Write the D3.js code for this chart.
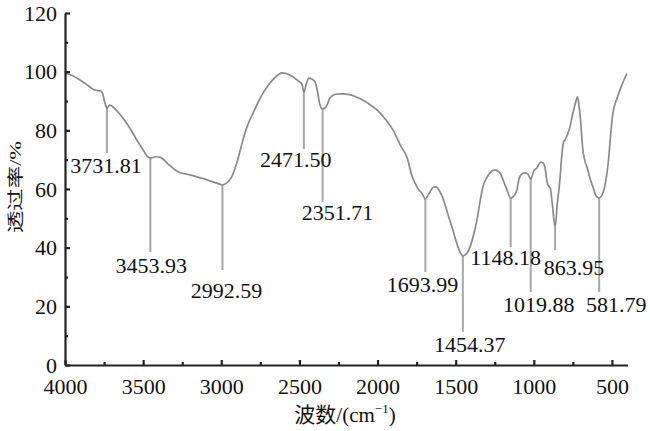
<!DOCTYPE html>
<html>
<head>
<meta charset="utf-8">
<script src="https://cdn.jsdelivr.net/npm/d3@7"></script>
<style>
  html, body { margin: 0; padding: 0; background: #fff; }
  svg { display: block; }
</style>
</head>
<body>
<svg id="chart" width="650" height="431"></svg>
<script>
// ---- Data ----
const wavenumber = [
  4000, 3950, 3900, 3860, 3820, 3790, 3770, 3760, 3745, 3731.81, 3715, 3700, 3680,
  3600, 3520, 3453.93, 3420, 3390, 3340, 3280, 3200, 3100, 3000, 2992.59, 2960,
  2930, 2900, 2870, 2840, 2800, 2760, 2720, 2680, 2640, 2612, 2580, 2540, 2500,
  2484, 2471.5, 2455, 2440, 2420, 2400, 2385, 2370, 2351.71, 2330, 2304, 2270,
  2230, 2180, 2120, 2060, 2000, 1950, 1900, 1850, 1812, 1780, 1761, 1740, 1715,
  1693.99, 1670, 1645, 1626, 1605, 1582, 1550, 1518, 1490, 1470, 1454.37, 1430,
  1409, 1385, 1364, 1340, 1326, 1300, 1281, 1249, 1217, 1195, 1172, 1148.18, 1130,
  1108, 1095, 1080, 1060, 1040, 1019.88, 1000, 980, 955, 940, 929, 920, 910, 895,
  880, 863.95, 850, 835, 820, 810, 801, 785, 769, 750, 735, 720, 710, 705, 695,
  686, 673, 660, 640, 622, 600, 581.79, 565, 550, 532, 520, 513, 494, 470, 449,
  425, 404
];
const transmittance = [
  99.5, 98.6, 97.0, 95.6, 94.0, 93.5, 93.4, 92.6, 89.5, 87.6, 88.6, 88.3, 87.3,
  82.0, 75.0, 70.5, 71.0, 70.8, 68.5, 66.0, 64.8, 63.3, 61.5, 61.4, 62.3,
  64.5, 69.0, 75.0, 80.5, 85.5, 90.0, 93.8, 96.7, 98.8, 99.6, 99.3, 98.2, 96.5,
  95.8, 93.0, 96.0, 97.8, 97.5, 96.5, 93.5, 89.0, 87.3, 88.0, 91.0, 92.3,
  92.4, 92.2, 91.0, 89.2, 86.8, 83.8, 80.0, 74.5, 70.9, 64.5, 62.1, 60.0, 58.5,
  56.6, 58.5, 60.5, 60.7, 59.5, 56.9, 51.5, 46.0, 41.0, 38.2, 37.2, 38.0,
  40.2, 44.5, 49.4, 57.0, 60.7, 64.0, 65.5, 66.5, 65.5, 62.8, 59.7, 56.9, 57.5,
  59.7, 63.5, 65.0, 65.5, 65.2, 63.4, 66.2, 67.2, 69.2, 68.8, 67.5, 64.0, 61.4, 60.3,
  54.0, 47.0, 55.0, 62.1, 72.0, 76.0, 76.7, 78.5, 81.1, 85.9, 89.0, 91.4, 88.0, 85.9, 79.0,
  73.3, 69.5, 67.5, 63.5, 60.7, 57.5, 56.9, 57.8, 60.0, 65.5, 71.0, 75.7, 85.9, 90.5, 93.8,
  97.0, 99.4
];

// Peak annotations: wavenumber, transmittance at peak, label text
const peakWavenumber = [3731.81, 3453.93, 2992.59, 2471.50, 2351.71, 1693.99, 1454.37, 1148.18, 1019.88, 863.95, 581.79];
const peakLabel = ["3731.81", "3453.93", "2992.59", "2471.50", "2351.71", "1693.99", "1454.37", "1148.18", "1019.88", "863.95", "581.79"];
const peakTop = [87.6, 70.5, 61.4, 93.0, 87.3, 56.6, 37.2, 56.9, 63.4, 47.0, 56.9];
// transmittance value where each marker line ends
const peakLineEnd = [72.3, 38.5, 32.4, 73.6, 55.6, 31.7, 11.3, 40.2, 24.9, 39.2, 24.9];

const xTicks = [4000, 3500, 3000, 2500, 2000, 1500, 1000, 500];
const xMinorTicks = [3750, 3250, 2750, 2250, 1750, 1250, 750];
const yTicks = [0, 20, 40, 60, 80, 100, 120];
const yMinorTicks = [10, 30, 50, 70, 90, 110];

// ---- Layout ----
const svg = d3.select("#chart");
const x = d3.scaleLinear().domain([4000, 400]).range([65, 627.6]);
const y = d3.scaleLinear().domain([0, 120]).range([365, 13]);

const serif = "'Liberation Serif', 'Times New Roman', serif";
const cjk = "'Noto Sans CJK SC', sans-serif";

// label layout (pixel offsets relative to marker line end)
const labelDx = [-1, 1, 4, -8, 15, -3, 7, -5, 8, 19, 17];
const labelDy = [20, 21, 28, 18, 18, 20, 20, 18, 20, 25, 20];

// Marker lines
const gPeaks = svg.append("g");
peakWavenumber.forEach((wn, i) => {
  gPeaks.append("line")
    .attr("x1", x(wn)).attr("x2", x(wn))
    .attr("y1", y(peakTop[i])).attr("y2", y(peakLineEnd[i]))
    .attr("stroke", "#a6a6a6").attr("stroke-width", 2);
});

// Spectrum line
const pts = wavenumber.map((w, i) => [w, transmittance[i]]);
svg.append("path")
  .datum(pts)
  .attr("fill", "none")
  .attr("stroke", "#8a8a8a")
  .attr("stroke-width", 1.7)
  .attr("d", d3.line().x(d => x(d[0])).y(d => y(d[1])).curve(d3.curveMonotoneX));

// Peak labels
peakWavenumber.forEach((wn, i) => {
  gPeaks.append("text")
    .attr("x", x(wn) + labelDx[i])
    .attr("y", y(peakLineEnd[i]) + labelDy[i])
    .attr("text-anchor", "middle")
    .attr("font-family", serif)
    .attr("font-size", 22)
    .attr("fill", "#111")
    .text(peakLabel[i]);
});

// Axes
const xAxis = svg.append("g").attr("transform", `translate(0,${y(0)})`)
  .call(d3.axisBottom(x).tickValues(xTicks).tickSize(-5).tickSizeOuter(0).tickPadding(13).tickFormat(d3.format("d")));
const xMinor = svg.append("g").attr("transform", `translate(0,${y(0)})`)
  .call(d3.axisBottom(x).tickValues(xMinorTicks).tickSize(-3).tickSizeOuter(0).tickFormat(""));
xMinor.select(".domain").remove();

const yAxis = svg.append("g").attr("transform", `translate(${x(4000)},0)`)
  .call(d3.axisLeft(y).tickValues(yTicks).tickSize(-5).tickSizeOuter(0).tickPadding(8));
const yMinor = svg.append("g").attr("transform", `translate(${x(4000)},0)`)
  .call(d3.axisLeft(y).tickValues(yMinorTicks).tickSize(-3).tickSizeOuter(0).tickFormat(""));
yMinor.select(".domain").remove();

[xAxis, yAxis, xMinor, yMinor].forEach(g => {
  g.selectAll(".domain").attr("stroke", "#222").attr("stroke-width", 2.2);
  g.selectAll(".tick line").attr("stroke", "#222").attr("stroke-width", 2.2);
  g.selectAll(".tick text").attr("font-family", serif).attr("font-size", 22).attr("fill", "#111");
});

// Axis titles
const xt = svg.append("text")
  .attr("x", 345).attr("y", 422)
  .attr("text-anchor", "middle")
  .attr("font-size", 21)
  .attr("fill", "#111");
xt.append("tspan").attr("font-family", cjk).text("波数");
xt.append("tspan").attr("font-family", serif).text("/(cm");
xt.append("tspan").attr("font-family", serif).attr("font-size", 13).attr("dy", -9).text("−1");
xt.append("tspan").attr("font-family", serif).attr("dy", 9).text(")");

const yt = svg.append("text")
  .attr("transform", "translate(21,187) rotate(-90) scale(1.12,0.8)")
  .attr("text-anchor", "middle")
  .attr("font-size", 20)
  .attr("fill", "#111");
yt.append("tspan").attr("font-family", cjk).text("透过率");
yt.append("tspan").attr("font-family", serif).text("/%");
</script>
</body>
</html>
